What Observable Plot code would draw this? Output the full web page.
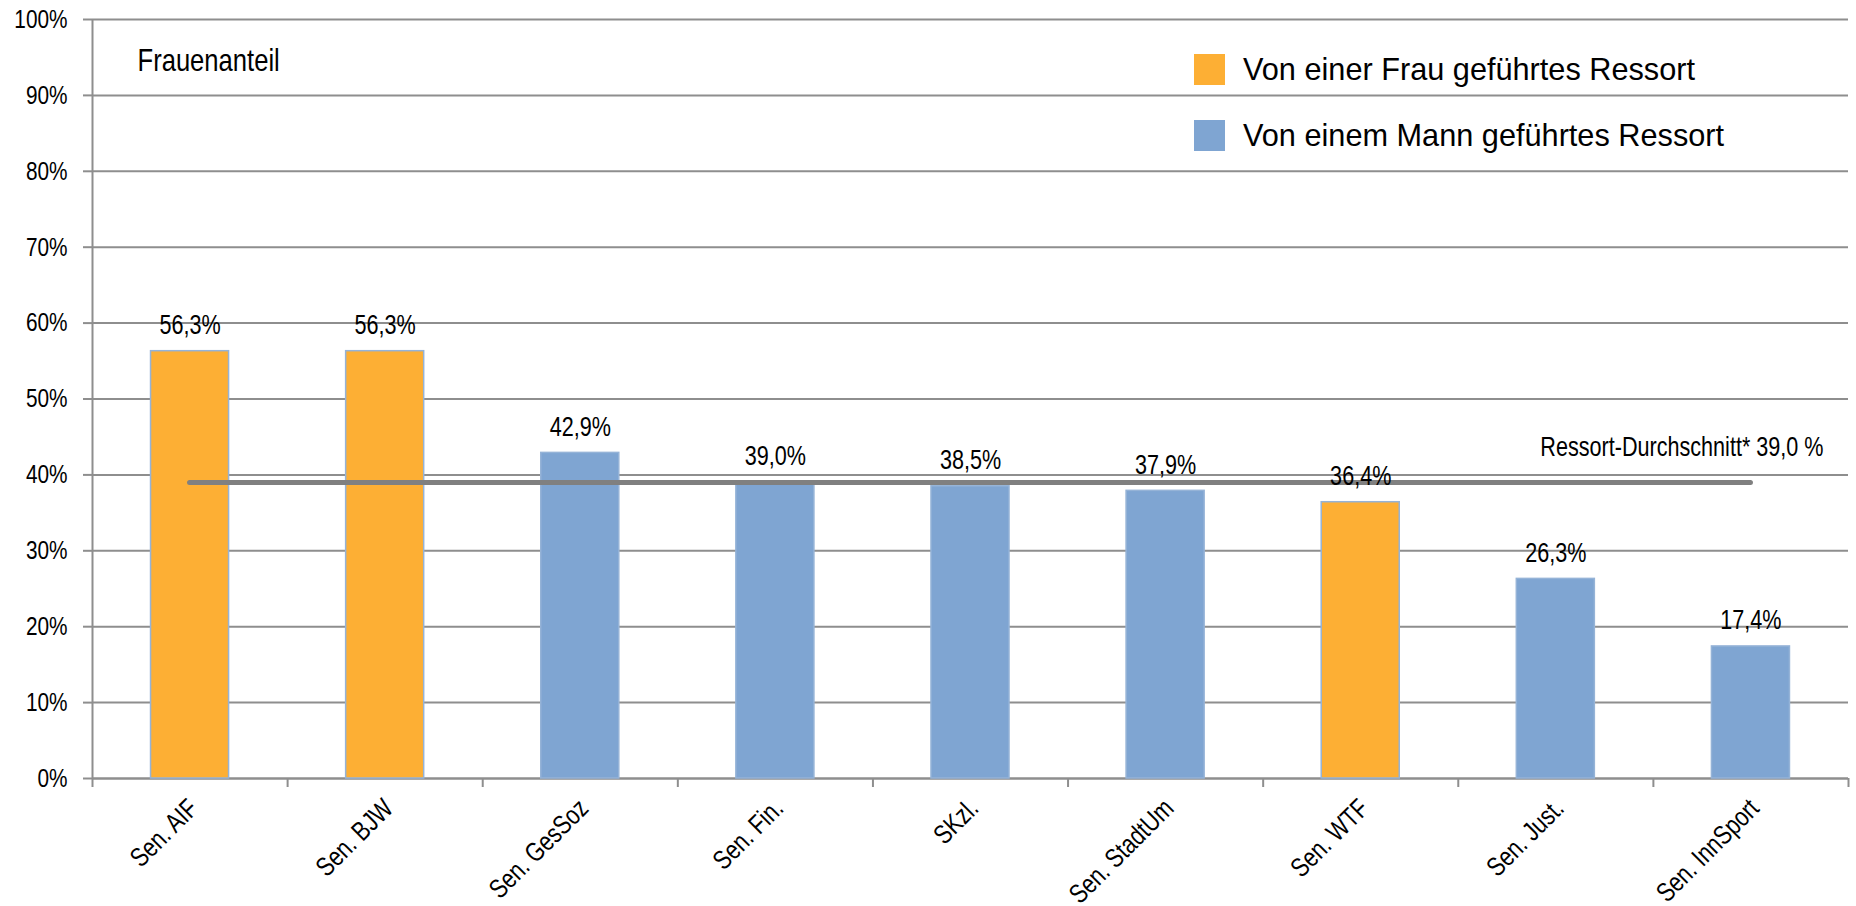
<!DOCTYPE html>
<html>
<head>
<meta charset="utf-8">
<script src="https://cdn.jsdelivr.net/npm/d3@7"></script>
<script src="https://cdn.jsdelivr.net/npm/@observablehq/plot@0.6"></script>
<style>
  html, body { margin: 0; padding: 0; background: #fff; }
  #wrap { position: relative; width: 1856px; height: 906px; overflow: hidden; }
  .font { font-family: "Liberation Sans", Arial, sans-serif; }
  #legend { position: absolute; left: 1194px; top: 54px; color: #000; font-size: 30.7px; }
  .item { position: absolute; left: 0; white-space: nowrap; display: flex; align-items: center; height: 31px; }
  .sw { width: 31px; height: 31px; display: inline-block; margin-right: 18px; }
</style>
</head>
<body>
<div id="wrap" class="font"></div>
<script>
// ---- data ----
const categories = ["Sen. AIF", "Sen. BJW", "Sen. GesSoz", "Sen. Fin.", "SKzl.", "Sen. StadtUm", "Sen. WTF", "Sen. Just.", "Sen. InnSport"];
const values = [56.3, 56.3, 42.9, 39.0, 38.5, 37.9, 36.4, 26.3, 17.4];
const leader = ["Frau", "Frau", "Mann", "Mann", "Mann", "Mann", "Frau", "Mann", "Mann"];
const average = 39.0;
const yTicks = [0, 10, 20, 30, 40, 50, 60, 70, 80, 90, 100];
const legendLabels = {Frau: "Von einer Frau geführtes Ressort", Mann: "Von einem Mann geführtes Ressort"};
const titleText = "Frauenanteil";
const avgLabel = "Ressort-Durchschnitt* 39,0 %";

// ---- styles ----
const FONT = '"Liberation Sans", Arial, sans-serif';
const colors = {Frau: "#FDAF34", Mann: "#7FA5D2"};
const GRID = "#8e8e8e";
const CONDENSE = 0.8;
const W = 1856, H = 906, ML = 92, MR = 8, MT = 19, MB = 128;
const n = categories.length;
const step = (W - ML - MR) / n;
const inset = step * 0.3;

const data = categories.map((c, i) => ({i, cat: c, value: values[i], leader: leader[i]}));
const fmt = v => v.toFixed(1).replace(".", ",") + "%";

const chart = Plot.plot({
  width: W, height: H,
  marginLeft: ML, marginRight: MR, marginTop: MT, marginBottom: MB,
  style: {fontFamily: FONT, background: "white", color: "#000"},
  x: {domain: [0, n], axis: null},
  y: {domain: [0, 100], axis: null},
  marks: [
    Plot.gridY(yTicks, {stroke: GRID, strokeOpacity: 1, strokeWidth: 2}),
    Plot.axisY({ticks: yTicks, label: null, tickSize: 9, tickPadding: 16, tickFormat: d => d + "%", fontSize: 26, stroke: GRID, strokeWidth: 2, fill: "#000"}),
    Plot.axisX({ticks: d3.range(0, n + 1), label: null, tickSize: 9, tickFormat: () => "", stroke: GRID, strokeWidth: 2}),
    Plot.ruleX([0], {stroke: GRID, strokeWidth: 2}),
    Plot.ruleY([0], {stroke: GRID, strokeWidth: 2}),
    Plot.rectY(data, {
      x1: d => d.i, x2: d => d.i + 1, y: "value",
      insetLeft: inset, insetRight: inset,
      fill: d => colors[d.leader], stroke: "#95B3D7", strokeWidth: 1.5
    }),
    Plot.ruleY([average], {x1: 0.5, x2: n - 0.5, stroke: "#808080", strokeWidth: 5, strokeLinecap: "round"}),
    Plot.text(data, {
      x: d => d.i + 0.5, y: "value", text: d => fmt(d.value),
      dy: -17, lineAnchor: "bottom", fontSize: 27, fill: "#000"
    }),
    Plot.text(data, {
      x: d => d.i + 0.5, y: 0, text: "cat", rotate: -45,
      textAnchor: "end", lineAnchor: "top", dx: -4, dy: 18, fontSize: 27, fill: "#000"
    }),
    Plot.text([avgLabel], {
      frameAnchor: "right", y: [average], text: d => d, textAnchor: "end",
      lineAnchor: "bottom", dx: -25, dy: -26, fontSize: 27, fill: "#000"
    }),
    Plot.text([titleText], {
      frameAnchor: "top-left", text: d => d, textAnchor: "start",
      lineAnchor: "bottom", dx: 45, dy: 51, fontSize: 32, fill: "#000"
    })
  ]
});

// horizontally condense every SVG text about its own anchor point (narrow typeface look)
chart.querySelectorAll("text").forEach(t => {
  const x = parseFloat(t.getAttribute("x")) || 0;
  const y = parseFloat(t.getAttribute("y")) || 0;
  const T = t.getAttribute("transform") || "";
  t.setAttribute("transform", `${T} translate(${x},${y}) scale(${CONDENSE},1) translate(${-x},${-y})`);
});

const wrap = document.getElementById("wrap");
wrap.appendChild(chart);

const legend = document.createElement("div");
legend.id = "legend";
legend.className = "font";
["Frau", "Mann"].forEach((k, j) => {
  const item = document.createElement("div");
  item.className = "item";
  item.style.top = (j * 66) + "px";
  const sw = document.createElement("span");
  sw.className = "sw";
  sw.style.background = colors[k];
  const t = document.createElement("span");
  t.textContent = legendLabels[k];
  item.appendChild(sw);
  item.appendChild(t);
  legend.appendChild(item);
});
wrap.appendChild(legend);
</script>
</body>
</html>
